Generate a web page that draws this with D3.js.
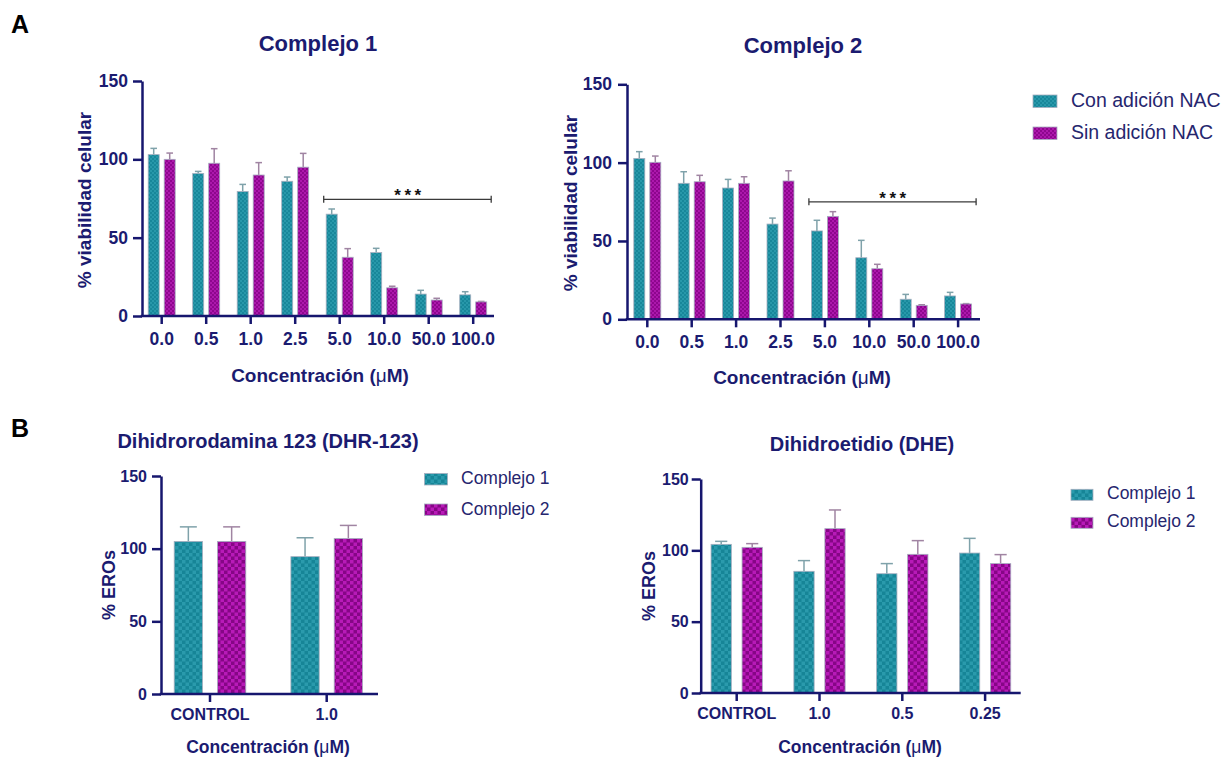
<!DOCTYPE html>
<html>
<head>
<meta charset="utf-8">
<script src="https://cdn.jsdelivr.net/npm/d3@7"></script>
<style>
  body { margin: 0; background: #fff; }
  text { font-family: "Liberation Sans", Arial, sans-serif; }
</style>
</head>
<body>
<svg id="chart" width="1222" height="757"></svg>
<script>
// ---- data ----
var concA = ['0.0', '0.5', '1.0', '2.5', '5.0', '10.0', '50.0', '100.0'];
var seriesA = ['Con adición NAC', 'Sin adición NAC'];

var c1Con    = [103, 91, 79.5, 86, 65, 40.5, 14, 13.5];
var c1ConErr = [4, 1.3, 4.5, 2.7, 3.3, 2.7, 2.4, 2];
var c1Sin    = [100, 97.5, 90, 95, 37.5, 18, 10.2, 9];
var c1SinErr = [4, 9.3, 7.9, 8.8, 5.5, 1, 1.1, 0.3];

var c2Con    = [102.7, 86.8, 83.8, 60.8, 56.4, 39.3, 12.8, 14.9];
var c2ConErr = [4.3, 7.4, 5.5, 3.8, 6.8, 11.1, 3.1, 2.3];
var c2Sin    = [100.2, 87.8, 86.8, 88.3, 65.7, 32.3, 8.9, 9.8];
var c2SinErr = [4, 4.1, 4.2, 6.5, 3, 2.8, 0.4, 0.2];

var seriesB = ['Complejo 1', 'Complejo 2'];
var concDHR = ['CONTROL', '1.0'];
var dhrC1    = [105, 94.5];
var dhrC1Err = [10, 13];
var dhrC2    = [105, 107];
var dhrC2Err = [10, 9];

var concDHE = ['CONTROL', '1.0', '0.5', '0.25'];
var dheC1    = [104.2, 85.3, 83.6, 98.1];
var dheC1Err = [2.1, 7.5, 7.1, 10.3];
var dheC2    = [102.1, 115.2, 97.2, 90.7];
var dheC2Err = [2.6, 13.1, 9.6, 6.3];

var yTicks = [0, 50, 100, 150];
var sigA = { from: '5.0', to: '100.0', label: '***' };
var sigA1Y = 74.5, sigA2Y = 75;

var navy = '#16166e';
var txt = '#1b1b70';

var svg = d3.select('#chart');

// checkered fills
var defs = svg.append('defs');
function checker(id, cell, base, alt) {
  var p = defs.append('pattern')
      .attr('id', id)
      .attr('patternUnits', 'userSpaceOnUse')
      .attr('width', cell * 2)
      .attr('height', cell * 2);
  p.append('rect').attr('width', cell * 2).attr('height', cell * 2).attr('fill', base);
  p.append('rect').attr('width', cell).attr('height', cell).attr('fill', alt);
  p.append('rect').attr('x', cell).attr('y', cell).attr('width', cell).attr('height', cell).attr('fill', alt);
}
checker('tealA', 2, '#18879a', '#2898aa');
checker('magA', 2, '#8e068e', '#ac18ac');
checker('tealB', 3.5, '#168597', '#2a9aac');
checker('magB', 3.5, '#860686', '#b81ab8');

var errColors = ['#7fa2aa', '#a084a2'];

function drawPanel(p) {
  var g = svg.append('g');
  var n = p.cats.length;
  var x = d3.scaleBand()
      .domain(p.cats)
      .range([p.firstTick - p.step / 2, p.firstTick - p.step / 2 + p.step * n]);
  var y = d3.scaleLinear().domain([0, 150]).range([p.y0, p.y150]);
  var pair = 2 * p.barW + p.gap;
  var x1 = d3.scaleBand()
      .domain([0, 1])
      .range([-pair / 2, pair / 2])
      .paddingInner(p.gap / (p.barW + p.gap));

  [[p.s1, p.e1], [p.s2, p.e2]].forEach(function(s, k) {
    var rows = s[0].map(function(v, i) { return { cat: p.cats[i], v: v, e: s[1][i] }; });
    var cx = function(d) { return x(d.cat) + x.bandwidth() / 2 + x1(k) + x1.bandwidth() / 2; };
    var cap = x1.bandwidth() * 0.3;

    g.selectAll(null).data(rows).enter().append('line')
        .attr('x1', cx).attr('x2', cx)
        .attr('y1', function(d) { return y(d.v); })
        .attr('y2', function(d) { return y(d.v + d.e); })
        .attr('stroke', errColors[k]).attr('stroke-width', 1.5);
    g.selectAll(null).data(rows).enter().append('line')
        .attr('x1', function(d) { return cx(d) - cap; })
        .attr('x2', function(d) { return cx(d) + cap; })
        .attr('y1', function(d) { return y(d.v + d.e); })
        .attr('y2', function(d) { return y(d.v + d.e); })
        .attr('stroke', errColors[k]).attr('stroke-width', 1.5);

    g.selectAll(null).data(rows).enter().append('rect')
        .attr('x', function(d) { return x(d.cat) + x.bandwidth() / 2 + x1(k); })
        .attr('y', function(d) { return y(d.v); })
        .attr('width', x1.bandwidth())
        .attr('height', function(d) { return p.y0 - y(d.v); })
        .attr('fill', 'url(#' + p.pats[k] + ')')
        .attr('stroke', '#a6aebf')
        .attr('stroke-width', 0.8);
  });

  // axes
  var ya = g.append('g')
      .attr('transform', 'translate(' + p.axisX + ',0)')
      .call(d3.axisLeft(y).tickValues(yTicks).tickSize(9).tickSizeOuter(0).tickPadding(p.yPad));
  var xa = g.append('g')
      .attr('transform', 'translate(0,' + p.y0 + ')')
      .call(d3.axisBottom(x).tickSize(8).tickSizeOuter(0).tickPadding(p.xPad));
  xa.select('.domain').remove();
  g.append('line')
      .attr('x1', p.axisX - 1.25).attr('x2', p.axisEnd)
      .attr('y1', p.y0).attr('y2', p.y0)
      .attr('stroke', navy).attr('stroke-width', 2.5);
  [ya, xa].forEach(function(a) {
    a.selectAll('.domain, .tick line').attr('stroke', navy).attr('stroke-width', 2.5);
    a.selectAll('.tick text')
        .attr('fill', txt)
        .attr('font-weight', 'bold')
        .attr('font-size', p.tickFont + 'px')
        .style('font-family', '"Liberation Sans", Arial, sans-serif');
  });

  // titles
  g.append('text')
      .attr('x', p.titleX).attr('y', p.titleY)
      .attr('text-anchor', 'middle')
      .attr('font-weight', 'bold').attr('font-size', p.titleFont + 'px')
      .attr('fill', txt)
      .text(p.title);
  var xt = g.append('text')
      .attr('x', p.xTitleX).attr('y', p.xTitleY)
      .attr('text-anchor', 'middle')
      .attr('font-weight', 'bold').attr('font-size', p.xTitleFont + 'px')
      .attr('fill', txt);
  xt.append('tspan').text('Concentración (');
  xt.append('tspan').attr('font-weight', 'normal').text('μ');
  xt.append('tspan').text('M)');
  g.append('text')
      .attr('transform', 'translate(' + p.yLabelX + ',' + p.yLabelY + ') rotate(-90)')
      .attr('text-anchor', 'middle')
      .attr('font-weight', 'bold').attr('font-size', p.yLabelFont + 'px')
      .attr('fill', txt)
      .text(p.yLabel);

  // significance bracket
  if (p.sig) {
    var sx0 = x(p.sig.from) + x.bandwidth() / 2 - 16;
    var sx1 = x(p.sig.to) + x.bandwidth() / 2 + 18;
    var sy = y(p.sigY);
    g.append('line').attr('x1', sx0).attr('x2', sx1).attr('y1', sy).attr('y2', sy)
        .attr('stroke', '#3a3a3a').attr('stroke-width', 1.3);
    [sx0, sx1].forEach(function(sx) {
      g.append('line').attr('x1', sx).attr('x2', sx).attr('y1', sy - 3.5).attr('y2', sy + 3.5)
          .attr('stroke', '#3a3a3a').attr('stroke-width', 1.3);
    });
    g.append('text')
        .attr('x', (sx0 + sx1) / 2 + 2).attr('y', sy + 2)
        .attr('text-anchor', 'middle')
        .attr('font-weight', 'bold').attr('font-size', '17px')
        .attr('letter-spacing', '3.5px')
        .attr('fill', '#111')
        .text(p.sig.label);
  }

  // legend
  if (p.legend) {
    p.legend.names.forEach(function(name, k) {
      var ly = p.legend.y[k];
      g.append('rect')
          .attr('x', p.legend.x).attr('y', ly - p.legend.h + 1)
          .attr('width', p.legend.w).attr('height', p.legend.h)
          .attr('fill', 'url(#' + p.pats[k] + ')')
          .attr('stroke', '#a6aebf').attr('stroke-width', 0.8);
      g.append('text')
          .attr('x', p.legend.tx).attr('y', ly)
          .attr('font-size', p.legend.font + 'px')
          .attr('fill', '#26266e')
          .text(name);
    });
  }
}

// A: viabilidad
drawPanel({
  cats: concA, s1: c1Con, e1: c1ConErr, s2: c1Sin, e2: c1SinErr, pats: ['tealA', 'magA'],
  axisX: 142, y0: 316, y150: 81, firstTick: 161.7, step: 44.5, barW: 11, gap: 5, axisEnd: 494,
  tickFont: 17.5, yPad: 5, xPad: 9,
  title: 'Complejo 1', titleX: 318, titleY: 51, titleFont: 22,
  xTitleX: 320, xTitleY: 382, xTitleFont: 19,
  yLabel: '% viabilidad celular', yLabelX: 91, yLabelY: 200, yLabelFont: 19,
  sig: sigA, sigY: sigA1Y
});
drawPanel({
  cats: concA, s1: c2Con, e1: c2ConErr, s2: c2Sin, e2: c2SinErr, pats: ['tealA', 'magA'],
  axisX: 627, y0: 319.3, y150: 84.3, firstTick: 647.3, step: 44.4, barW: 11, gap: 5, axisEnd: 980,
  tickFont: 17.5, yPad: 6, xPad: 8,
  title: 'Complejo 2', titleX: 803, titleY: 53, titleFont: 22,
  xTitleX: 802, xTitleY: 384, xTitleFont: 19,
  yLabel: '% viabilidad celular', yLabelX: 577, yLabelY: 203, yLabelFont: 19,
  sig: sigA, sigY: sigA2Y,
  legend: { names: seriesA, x: 1033, w: 24, h: 12.5, tx: 1071, y: [106.5, 138.5], font: 19.5 }
});

// B: EROs
drawPanel({
  cats: concDHR, s1: dhrC1, e1: dhrC1Err, s2: dhrC2, e2: dhrC2Err, pats: ['tealB', 'magB'],
  axisX: 161, y0: 694, y150: 476, firstTick: 210, step: 116.7, barW: 28.3, gap: 15, axisEnd: 378,
  tickFont: 16, yPad: 5, xPad: 7,
  title: 'Dihidrorodamina 123 (DHR-123)', titleX: 268, titleY: 448, titleFont: 20,
  xTitleX: 268, xTitleY: 753, xTitleFont: 17.5,
  yLabel: '% EROs', yLabelX: 115, yLabelY: 585, yLabelFont: 18,
  legend: { names: seriesB, x: 424.5, w: 23, h: 11.5, tx: 461, y: [484, 514.5], font: 17.5 }
});
drawPanel({
  cats: concDHE, s1: dheC1, e1: dheC1Err, s2: dheC2, e2: dheC2Err, pats: ['tealB', 'magB'],
  axisX: 700.7, y0: 693, y150: 479, firstTick: 736.7, step: 82.8, barW: 20.3, gap: 10.7, axisEnd: 1020.7,
  tickFont: 16, yPad: 3, xPad: 7,
  title: 'Dihidroetidio (DHE)', titleX: 862, titleY: 451, titleFont: 20,
  xTitleX: 860, xTitleY: 753, xTitleFont: 17.5,
  yLabel: '% EROs', yLabelX: 655, yLabelY: 586, yLabelFont: 18,
  legend: { names: seriesB, x: 1071, w: 22, h: 11, tx: 1107, y: [499.3, 527.3], font: 17.5 }
});

// panel letters
svg.append('text').attr('x', 11).attr('y', 33)
    .attr('font-weight', 'bold').attr('font-size', '25px').attr('fill', '#000').text('A');
svg.append('text').attr('x', 11).attr('y', 437)
    .attr('font-weight', 'bold').attr('font-size', '25px').attr('fill', '#000').text('B');
</script>
</body>
</html>
